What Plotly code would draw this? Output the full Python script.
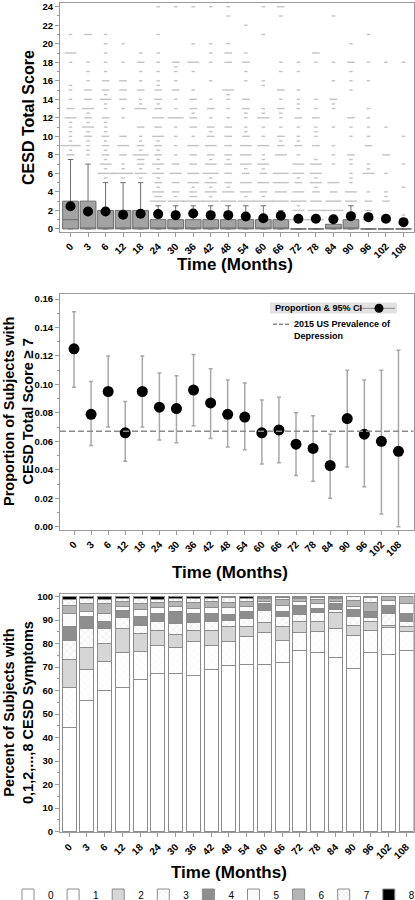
import numpy as np
import plotly.graph_objects as go

# ---------------- data ----------------
times = [0, 3, 6, 12, 18, 24, 30, 36, 42, 48, 54, 60, 66, 72, 78, 84, 90, 96, 102, 108]
time_labels = [str(t) for t in times]

# Panel 1: CESD total score box summaries
box_q1 = [0] * 20
box_median = [1, 0, 0, 0, 0, 0, 0, 0, 0, 0, 0, 0, 0, 0, 0, 0, 0, 0, 0, 0]
box_q3 = [3, 3, 2, 2, 2, 1, 1, 1, 1, 1, 1, 1, 1, 0, 0, 0.5, 1, 0, 0, 0]
box_upper = [7.5, 7, 5, 5, 5, 2.5, 2.5, 2.5, 2.5, 2.5, 2.5, 2.5, 2, 0, 0, 1, 2.5, 0, 0, 0]
score_means = [2.44, 1.89, 1.89, 1.53, 1.64, 1.60, 1.49, 1.67, 1.49, 1.49,
               1.35, 1.16, 1.42, 1.09, 1.09, 1.05, 1.38, 1.27, 1.09, 0.73]

# outlying scores (value, number of subjects) per visit
out_t0 = [(21, 1), (19, 3), (18, 1), (15.5, 1), (15, 1), (14, 1), (13, 2), (12, 3), (11.5, 1), (11, 1),
          (10.5, 1), (10, 1), (9.5, 1), (9, 5), (8.5, 1), (8, 2)]
out_t3 = [(21, 2), (18, 1), (17, 1), (16, 1), (15, 2), (14, 2), (13, 3), (12.5, 1), (12, 2), (11.5, 1),
          (11, 3), (10.5, 1), (10, 2), (9.5, 1), (9, 1), (8.5, 1), (8, 1)]
out_t6 = [(21, 1), (20, 1), (19, 1), (18, 1), (17, 1), (16, 2), (15, 2), (14.5, 1), (14, 3), (13.5, 1),
          (13, 1), (12, 2), (11.5, 1), (11, 1), (10.5, 1), (10, 2), (9.5, 1), (9, 2), (8.5, 1), (8, 2),
          (7.5, 1), (7, 3), (6.5, 1), (6, 4), (5.5, 1)]
out_t12 = [(20, 1), (18, 1), (16, 2), (15, 2), (14, 2), (13, 1), (12, 1), (10, 2), (9, 3), (8, 2),
           (7, 1), (6.5, 1), (6, 5), (5.5, 1)]
out_t18 = [(19, 1), (18, 2), (17, 1), (16, 1), (15, 2), (14, 1), (13.5, 1), (13, 3), (11, 2), (10, 1),
           (9.5, 1), (9, 2), (8.5, 1), (8, 4), (7.5, 2), (7, 2), (6.5, 1), (6, 3), (5.5, 1)]
out_t24 = [(24, 1), (21, 1), (19, 1), (18, 1), (17, 1), (16, 1), (15.5, 1), (15, 2), (14, 2), (13.5, 1),
           (13, 2), (12, 3), (11, 2), (10, 3), (9.5, 1), (9, 2), (8.5, 1), (8, 2), (7.5, 1), (7, 3),
           (6.5, 1), (6, 3), (5.5, 1), (5, 2), (4.5, 1), (4, 3), (3.5, 2), (3, 4)]
out_t30 = [(24, 1), (18, 2), (17.5, 1), (17, 1), (16, 1), (15, 2), (14, 1), (13, 1), (12, 4), (11, 1),
           (10, 1), (9, 1), (8, 1), (7, 2), (6, 3), (5, 2), (4, 2), (3.5, 1), (3, 4)]
out_t36 = [(24, 1), (20, 1), (18, 3), (17, 1), (15, 1), (14, 2), (13, 2), (12.5, 1), (12, 2), (11, 2),
           (10, 1), (9, 3), (8, 2), (7, 2), (6, 3), (5, 3), (4.5, 1), (4, 2), (3.5, 2), (3, 5)]
out_t42 = [(24, 1), (20, 1), (19, 1), (18, 1), (16, 1), (14, 1), (13, 2), (12, 1), (11, 2), (10.5, 1),
           (10, 2), (9, 3), (8, 2), (7.5, 1), (7, 3), (6, 4), (5.5, 1), (5, 3), (4.5, 1), (4, 3),
           (3.5, 1), (3, 4)]
out_t48 = [(24, 1), (23, 1), (20, 1), (19, 2), (18, 2), (15, 3), (14.5, 1), (14, 1), (13, 1), (12, 1),
           (11, 2), (10, 2), (9, 2), (8, 2), (7.5, 1), (7, 2), (6, 2), (5, 2), (4.5, 1), (4, 3), (3, 4)]
out_t54 = [(22, 1), (19, 1), (18, 2), (17, 1), (16, 1), (14, 2), (13, 2), (12.5, 1), (12, 1), (11, 1),
           (10.5, 1), (10, 2), (9, 3), (8, 3), (7, 3), (6.5, 1), (6, 2), (5, 3), (4, 3), (3.5, 1), (3, 4)]
out_t60 = [(24, 1), (21, 1), (16, 1), (15.5, 1), (13, 1), (12.5, 1), (12, 3), (11, 1), (10, 1), (9, 3),
           (8, 1), (7.5, 1), (7, 3), (6.5, 1), (6, 2), (5, 3), (4, 2), (3.5, 1), (3, 5)]
out_t66 = [(24, 2), (23, 1), (18, 1), (17, 1), (15, 2), (14, 1), (13, 2), (12.5, 1), (12, 1), (11, 1),
           (10, 2), (9.5, 1), (9, 2), (8, 3), (6, 4), (5, 4), (4, 3), (3, 4)]
out_t72 = [(18, 1), (17, 1), (15, 1), (14, 1), (13.5, 1), (13, 1), (12, 2), (11, 1), (10, 1), (9.5, 1),
           (9, 2), (8, 1), (7, 3), (6, 3), (5.5, 1), (5, 2), (4, 3), (3, 4), (2.5, 1), (2, 3), (1, 5)]
out_t78 = [(19, 2), (18, 1), (14, 1), (13, 1), (12, 2), (11, 1), (10.5, 1), (10, 1), (9, 2), (7.5, 1),
           (7, 3), (6, 3), (5.5, 1), (5, 3), (4.5, 1), (4, 2), (3, 3), (2, 4), (1, 4)]
out_t84 = [(23, 1), (18, 1), (16, 1), (14, 2), (13.5, 1), (13, 1), (11, 1), (9, 1), (8, 1), (7, 1),
           (5, 3), (4, 2), (3, 4), (2, 5)]
out_t90 = [(20, 1), (18, 2), (17, 1), (16, 1), (15, 1), (12, 2), (11, 1), (10, 1), (8, 2), (7.5, 1),
           (7, 1), (6, 1), (5.5, 1), (5, 1), (4, 3), (3, 3)]
out_t96 = [(21, 1), (18, 1), (16, 1), (13, 1), (12, 1), (11, 1), (10, 1), (9, 2), (7, 1), (6.5, 1),
           (6, 3), (4, 1), (3, 2), (2, 2), (1, 3)]
out_t102 = [(18, 1), (11, 1), (8, 2), (6, 1), (4, 1), (3.5, 1), (3, 2)]
out_t108 = [(18, 1), (10, 1), (7, 1), (4.5, 1), (1.5, 1)]
outliers_by_time = [out_t0, out_t3, out_t6, out_t12, out_t18, out_t24, out_t30, out_t36, out_t42, out_t48,
                    out_t54, out_t60, out_t66, out_t72, out_t78, out_t84, out_t90, out_t96, out_t102, out_t108]

# Panel 2: proportion with CESD >= 7 and 95% CI
prop = [0.125, 0.079, 0.095, 0.066, 0.095, 0.084, 0.083, 0.096, 0.087, 0.079,
        0.077, 0.066, 0.068, 0.058, 0.055, 0.043, 0.076, 0.065, 0.060, 0.053]
ci_upper = [0.151, 0.102, 0.120, 0.088, 0.120, 0.108, 0.106, 0.121, 0.111, 0.103,
            0.101, 0.089, 0.091, 0.080, 0.078, 0.065, 0.110, 0.103, 0.110, 0.124]
ci_lower = [0.098, 0.057, 0.070, 0.046, 0.070, 0.061, 0.059, 0.071, 0.062, 0.056,
            0.054, 0.044, 0.045, 0.036, 0.032, 0.020, 0.042, 0.028, 0.009, 0.000]
us_prevalence = 0.067

# Panel 3: percent of subjects with 0..8 CESD symptoms
pct_0 = [44.4, 55.9, 60.0, 61.5, 64.7, 67.5, 67.5, 66.5, 69.0, 70.7, 71.2, 71.2, 71.8, 76.9, 76.1, 74.2, 69.4, 76.3, 75.5, 76.9]
pct_1 = [16.9, 13.1, 12.6, 14.8, 11.8, 11.5, 10.8, 14.3, 10.3, 10.4, 11.7, 13.4, 9.4, 7.7, 8.9, 12.2, 13.9, 9.3, 11.3, 8.1]
pct_2 = [12.1, 9.4, 7.5, 10.2, 7.9, 6.6, 5.7, 5.0, 6.3, 6.0, 4.6, 4.3, 6.3, 4.7, 4.3, 6.9, 4.4, 3.9, 1.1, 2.2]
pct_3 = [8.0, 8.2, 6.2, 4.7, 3.5, 3.7, 4.6, 3.2, 4.0, 2.9, 3.2, 5.1, 4.0, 2.9, 3.9, 1.3, 3.9, 1.5, 5.0, 2.1]
pct_4 = [5.9, 5.1, 3.0, 2.9, 3.6, 3.7, 4.9, 3.9, 3.4, 2.3, 2.9, 2.9, 2.1, 4.2, 1.8, 2.3, 2.9, 2.1, 3.5, 3.6]
pct_5 = [5.4, 1.9, 3.6, 1.9, 3.1, 2.3, 2.2, 2.1, 2.5, 3.0, 2.4, 1.1, 2.8, 1.5, 2.2, 1.1, 1.2, 0.7, 1.9, 4.3]
pct_6 = [3.5, 3.6, 4.3, 1.9, 2.6, 2.2, 2.2, 2.4, 2.4, 2.3, 1.9, 1.0, 2.2, 1.4, 1.7, 1.0, 2.6, 3.6, 1.7, 2.8]
pct_7 = [2.4, 1.8, 1.4, 1.4, 2.1, 1.1, 1.4, 1.6, 1.5, 1.9, 1.4, 0.6, 1.0, 0.3, 0.7, 0.6, 1.7, 2.1, 0.0, 0.0]
pct_8 = [1.4, 1.0, 1.4, 0.7, 0.7, 1.4, 0.7, 1.0, 0.6, 0.5, 0.7, 0.4, 0.4, 0.4, 0.4, 0.4, 0.0, 0.5, 0.0, 0.0]
symptom_labels = ["0", "1", "2", "3", "4", "5", "6", "7", "8"]
symptom_pcts = [pct_0, pct_1, pct_2, pct_3, pct_4, pct_5, pct_6, pct_7, pct_8]

# ---------------- styling helpers ----------------
W, H = 415, 900
FONT = "Arial, Liberation Sans, sans-serif"
GRID = "#9a9a9a"

def px_x(p):
    return p / W

def px_y(p):
    return 1 - p / H

fig = go.Figure()

# ----- Panel 1 -----
dash_x, dash_y, dash_size = [], [], []
for lab, pts in zip(time_labels, outliers_by_time):
    for v, n in pts:
        dash_x.append(lab)
        dash_y.append(v)
        dash_size.append(3 * n - 0.5)

fig.add_trace(go.Box(
    x=time_labels, q1=box_q1, median=box_median, q3=box_q3,
    lowerfence=box_q1, upperfence=box_upper,
    width=0.9, whiskerwidth=0.35,
    fillcolor="#a3a3a3", line=dict(color="#6e6e6e", width=1),
    xaxis="x", yaxis="y", showlegend=False, hoverinfo="skip"))
fig.add_trace(go.Scatter(
    x=dash_x, y=dash_y, mode="markers",
    marker=dict(symbol="line-ew", size=dash_size, color="#ababab",
                line=dict(color="#ababab", width=1.4)),
    xaxis="x", yaxis="y", showlegend=False, hoverinfo="skip"))
fig.add_trace(go.Scatter(
    x=time_labels, y=score_means, mode="markers",
    marker=dict(color="black", size=10),
    xaxis="x", yaxis="y", showlegend=False))

# ----- Panel 2 -----
prop_a = np.array(prop)
fig.add_trace(go.Scatter(
    x=time_labels, y=prop, mode="markers",
    marker=dict(color="black", size=11),
    error_y=dict(type="data", symmetric=False,
                 array=np.array(ci_upper) - prop_a,
                 arrayminus=prop_a - np.array(ci_lower),
                 color="#a8a8a8", thickness=1.5, width=2),
    xaxis="x2", yaxis="y2", showlegend=False, name="Proportion & 95% CI"))
fig.add_shape(type="line", xref="x2 domain", yref="y2", x0=0, x1=1,
              y0=us_prevalence, y1=us_prevalence,
              line=dict(color="#8a8a8a", width=1.5, dash="6px,3px"))

# manual legend for panel 2
fig.add_shape(type="rect", xref="paper", yref="paper",
              x0=px_x(270), x1=px_x(397), y0=px_y(313.5), y1=px_y(302.5),
              fillcolor="#e2e2e2", line=dict(width=0), layer="below")
fig.add_annotation(xref="paper", yref="paper", x=px_x(273), y=px_y(308),
                   text="Proportion & 95% CI", showarrow=False, xanchor="left", yanchor="middle",
                   font=dict(family=FONT, size=9, color="black", weight="bold"))
fig.add_shape(type="line", xref="paper", yref="paper",
              x0=px_x(358), x1=px_x(395), y0=px_y(308.3), y1=px_y(308.3),
              line=dict(color="#9a9a9a", width=1.2))
fig.add_shape(type="circle", xref="paper", yref="paper",
              x0=px_x(374.5), x1=px_x(383.5), y0=px_y(312.8), y1=px_y(303.8),
              fillcolor="black", line=dict(color="black", width=0))
fig.add_shape(type="line", xref="paper", yref="paper",
              x0=px_x(273), x1=px_x(289), y0=px_y(324.3), y1=px_y(324.3),
              line=dict(color="#8a8a8a", width=1.5, dash="4px,2px"))
fig.add_annotation(xref="paper", yref="paper", x=px_x(292), y=px_y(330),
                   text="2015 US Prevalence of<br>Depression", showarrow=False,
                   xanchor="left", yanchor="middle", align="left",
                   font=dict(family=FONT, size=9, color="black", weight="bold"))

# ----- Panel 3 -----
fill_colors = ["white", "white", "#d6d6d6", "white", "#8e8e8e", "#fbfbfb", "#b5b5b5", "white", "black"]
patterns = [None,
            dict(shape="x", fgcolor="#dcdcdc", size=5, solidity=0.15),
            None,
            dict(shape="x", fgcolor="#c4c4c4", size=5, solidity=0.2),
            None, None, None,
            dict(shape="x", fgcolor="#a4a4a4", size=4, solidity=0.25),
            None]
for lab, vals, col, pat in zip(symptom_labels, symptom_pcts, fill_colors, patterns):
    marker = dict(color=col, line=dict(color="#8c8c8c", width=1))
    if pat is not None:
        marker["pattern"] = pat
    fig.add_trace(go.Bar(x=time_labels, y=vals, name=lab, marker=marker,
                         xaxis="x3", yaxis="y3", legend="legend"))

# ----- axes -----
tickfont = dict(family=FONT, size=10, color="black", weight="bold")
ytickfont = dict(family=FONT, size=9.5, color="black", weight="bold")
common_x = dict(type="category", categoryorder="array", categoryarray=time_labels,
                showline=True, mirror=True, linecolor=GRID, linewidth=1,
                ticks="outside", ticklen=4, tickcolor=GRID, tickangle=-45,
                tickfont=tickfont, showgrid=False, zeroline=False, automargin=False,
                domain=[px_x(60), px_x(413.5)])
common_y = dict(showline=True, mirror=True, linecolor=GRID, linewidth=1,
                ticks="outside", ticklen=4, tickcolor=GRID, tickfont=ytickfont,
                showgrid=False, zeroline=False, automargin=False)

fig.update_layout(
    width=W, height=H, margin=dict(l=0, r=0, t=0, b=0, autoexpand=False),
    paper_bgcolor="white", plot_bgcolor="white",
    font=dict(family=FONT, color="black"),
    barmode="stack", bargap=0.21,
    xaxis=dict(common_x, anchor="y", range=[-0.6, 19.57]),
    yaxis=dict(common_y, anchor="x", domain=[px_y(231.7), px_y(3.3)],
               range=[-0.3, 24.37], tickvals=list(range(0, 25, 2)),
               minor=dict(dtick=1, ticklen=2, tickcolor=GRID, ticks="outside")),
    xaxis2=dict(common_x, anchor="y2", range=[-0.82, 19.88]),
    yaxis2=dict(common_y, anchor="x2", domain=[px_y(529.7), px_y(294.3)],
                range=[-0.0021, 0.1633], dtick=0.02, tick0=0, tickformat=".2f",
                minor=dict(dtick=0.01, ticklen=2, tickcolor=GRID, ticks="outside")),
    xaxis3=dict(common_x, anchor="y3", range=[-0.52, 19.41]),
    yaxis3=dict(common_y, anchor="x3", domain=[px_y(832.3), px_y(594.3)],
                range=[-0.3, 101], dtick=10, tick0=0,
                minor=dict(dtick=5, ticklen=2, tickcolor=GRID, ticks="outside")),
    legend=dict(orientation="h", x=px_x(8), y=px_y(895), xanchor="left", yanchor="middle",
                entrywidth=0.1, entrywidthmode="pixels", traceorder="normal", itemwidth=30,
                font=dict(family=FONT, size=10, color="black"),
                bgcolor="rgba(0,0,0,0)"),
    showlegend=True,
)

# ----- axis titles -----
title_font = dict(family=FONT, size=16, color="black", weight="bold")
for txt, cx, cy in [("Time (Months)", 235, 264), ("Time (Months)", 230, 572), ("Time (Months)", 229, 872)]:
    fig.add_annotation(xref="paper", yref="paper", x=px_x(cx), y=px_y(cy), text=txt,
                       showarrow=False, xanchor="center", yanchor="middle",
                       font=dict(family=FONT, size=17, color="black", weight="bold"))
fig.add_annotation(xref="paper", yref="paper", x=px_x(28), y=px_y(118), text="CESD Total Score",
                   textangle=-90, showarrow=False, xanchor="center", yanchor="middle", font=title_font)
fig.add_annotation(xref="paper", yref="paper", x=px_x(18), y=px_y(412),
                   text="Proportion of Subjects with<br>CESD Total Score ≥ 7",
                   textangle=-90, showarrow=False, xanchor="center", yanchor="middle",
                   font=dict(family=FONT, size=14.5, color="black", weight="bold"))
fig.add_annotation(xref="paper", yref="paper", x=px_x(18), y=px_y(713),
                   text="Percent of Subjects with<br>0,1,2,...,8 CESD Symptoms",
                   textangle=-90, showarrow=False, xanchor="center", yanchor="middle",
                   font=dict(family=FONT, size=14.5, color="black", weight="bold"))

fig.write_html("out.html",
               config={"displayModeBar": False},
               post_script="document.body.style.margin='0px';document.body.style.overflow='hidden';")
